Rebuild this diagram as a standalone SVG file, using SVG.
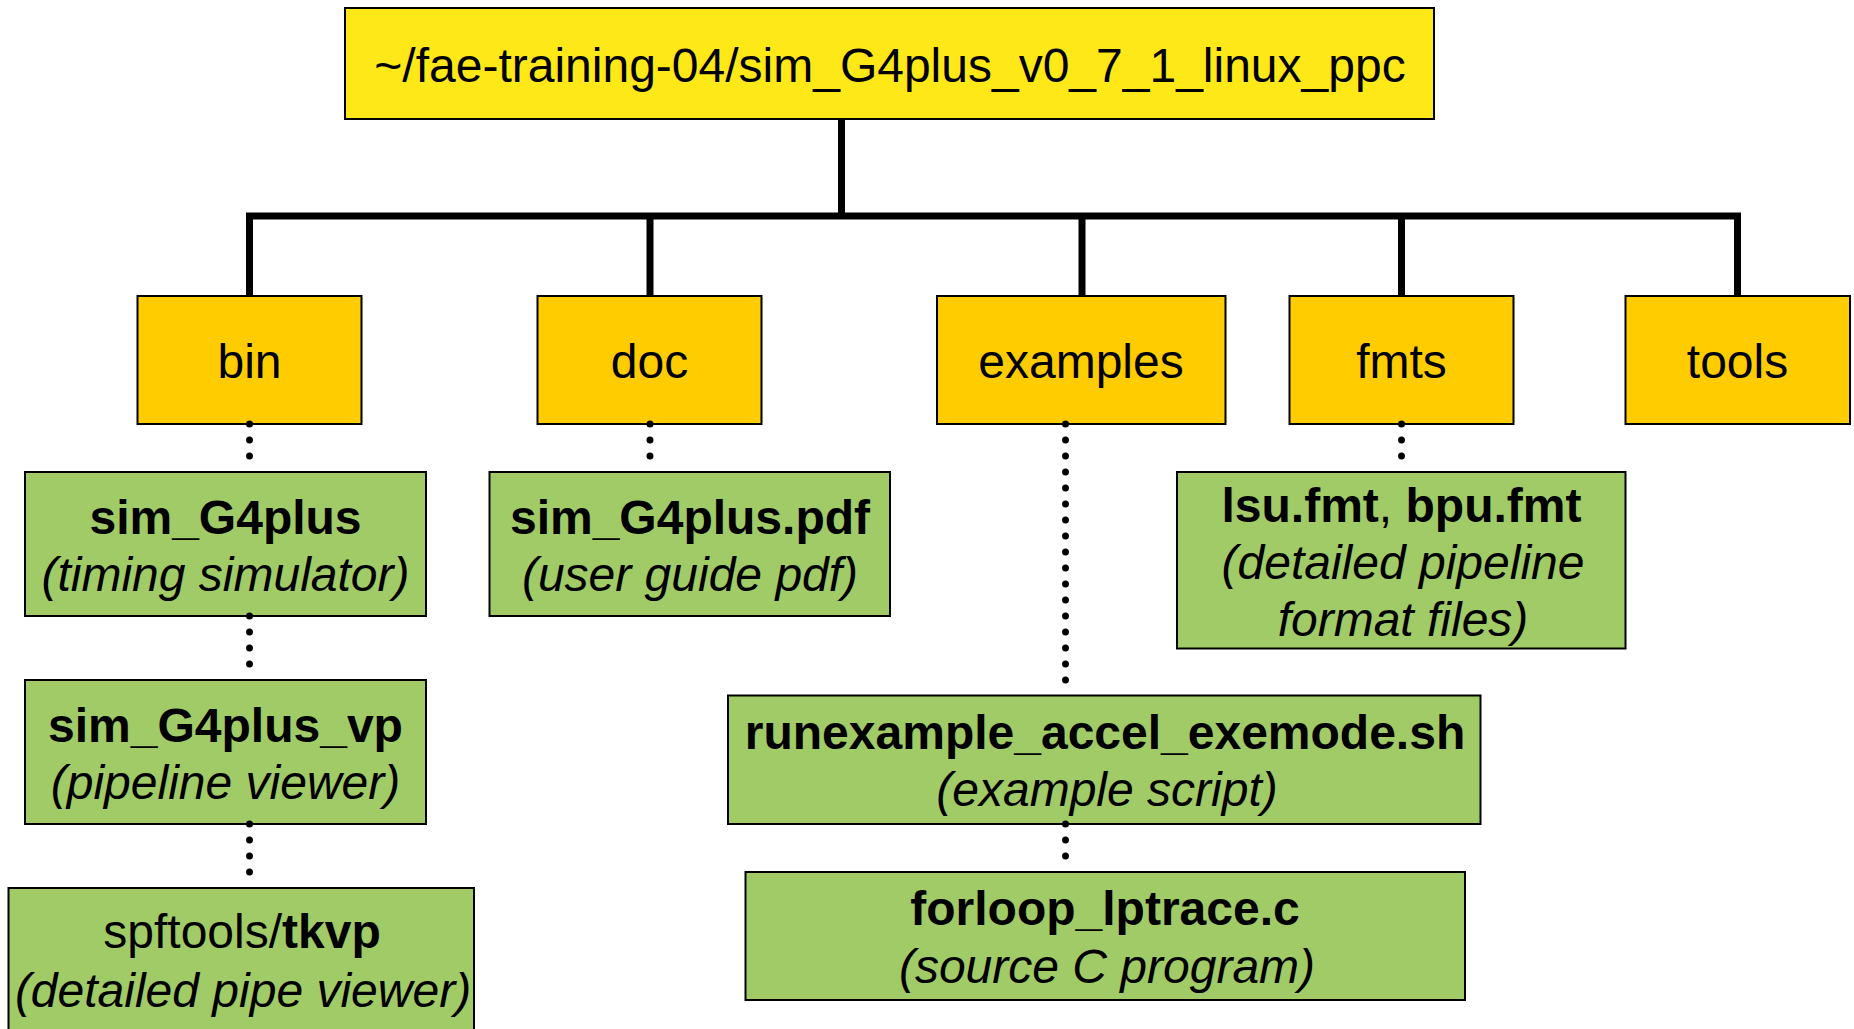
<svg xmlns="http://www.w3.org/2000/svg" width="1854" height="1029" viewBox="0 0 1854 1029">
<style>
  .box { stroke: #000; stroke-width: 2; }
  .root { fill: #FFE817; }
  .dir { fill: #FFCC00; }
  .file { fill: #A0CB67; }
  text { font-family: "Liberation Sans", Arial, Helvetica, sans-serif; font-size: 48px; fill: #000; text-anchor: middle; }
  .b { font-weight: bold; }
  .i { font-style: italic; }
  .solid { fill: none; stroke: #000; stroke-width: 7; }
  .dots { fill: none; stroke: #000; stroke-width: 7; stroke-linecap: round; stroke-dasharray: 0 16; }
</style>
<rect width="1854" height="1029" fill="#fff"/>

<g id="connectors">
  <line class="solid" x1="841.5" y1="119" x2="841.5" y2="216"/>
  <path class="solid" d="M249.5 296 V216 H1737.5 V296"/>
  <line class="solid" x1="650" y1="216" x2="650" y2="296"/>
  <line class="solid" x1="1082" y1="216" x2="1082" y2="296"/>
  <line class="solid" x1="1401.5" y1="216" x2="1401.5" y2="296"/>
</g>

<g id="root">
  <rect class="box root" x="345" y="8" width="1089" height="111"/>
  <text x="890" y="82">~/fae-training-04/sim_G4plus_v0_7_1_linux_ppc</text>
</g>

<g id="bin">
  <rect class="box dir" x="137.5" y="296" width="224" height="128"/>
  <text x="249.5" y="378">bin</text>
</g>
<g id="doc">
  <rect class="box dir" x="537.5" y="296" width="224" height="128"/>
  <text x="649.5" y="378">doc</text>
</g>
<g id="examples">
  <rect class="box dir" x="937" y="296" width="288.5" height="128"/>
  <text x="1081" y="378">examples</text>
</g>
<g id="fmts">
  <rect class="box dir" x="1289.5" y="296" width="224" height="128"/>
  <text x="1401.5" y="378">fmts</text>
</g>
<g id="tools">
  <rect class="box dir" x="1625.5" y="296" width="224.5" height="128"/>
  <text x="1737.5" y="378">tools</text>
</g>

<g id="sim_G4plus">
  <rect class="box file" x="25" y="472" width="401" height="144"/>
  <text class="b" x="225.5" y="534">sim_G4plus</text>
  <text class="i" x="225.5" y="591">(timing simulator)</text>
</g>
<g id="sim_G4plus_vp">
  <rect class="box file" x="25" y="680" width="401" height="144"/>
  <text class="b" x="225.5" y="742">sim_G4plus_vp</text>
  <text class="i" x="225.5" y="799">(pipeline viewer)</text>
</g>
<g id="tkvp">
  <rect class="box file" x="8.5" y="888" width="465.5" height="146"/>
  <text x="242" y="948">spftools/<tspan class="b">tkvp</tspan></text>
  <text class="i" x="243" y="1007">(detailed pipe viewer)</text>
</g>
<g id="sim_G4plus_pdf">
  <rect class="box file" x="489.5" y="472" width="400.5" height="144"/>
  <text class="b" x="690" y="534">sim_G4plus.pdf</text>
  <text class="i" x="690" y="591">(user guide pdf)</text>
</g>
<g id="fmt_files">
  <rect class="box file" x="1177" y="472" width="448.5" height="176.5"/>
  <text x="1401.5" y="522"><tspan class="b">lsu.fmt</tspan>, <tspan class="b">bpu.fmt</tspan></text>
  <text class="i" x="1403" y="579">(detailed pipeline</text>
  <text class="i" x="1403" y="636">format files)</text>
</g>
<g id="runexample">
  <rect class="box file" x="728" y="695.5" width="752.5" height="128.5"/>
  <text class="b" x="1105" y="749">runexample_accel_exemode.sh</text>
  <text class="i" x="1107" y="806">(example script)</text>
</g>
<g id="forloop">
  <rect class="box file" x="745.5" y="872" width="719.5" height="128"/>
  <text class="b" x="1105" y="925">forloop_lptrace.c</text>
  <text class="i" x="1107" y="983">(source C program)</text>
</g>

<g id="dotted-connectors">
  <line class="dots" x1="249.5" y1="424" x2="249.5" y2="457"/>
  <line class="dots" x1="249.5" y1="616" x2="249.5" y2="665"/>
  <line class="dots" x1="249.5" y1="824" x2="249.5" y2="873"/>
  <line class="dots" x1="650" y1="424" x2="650" y2="457"/>
  <line class="dots" x1="1401.5" y1="424" x2="1401.5" y2="457"/>
  <line class="dots" x1="1065.5" y1="424" x2="1065.5" y2="681"/>
  <line class="dots" x1="1065.5" y1="824" x2="1065.5" y2="857"/>
</g>
</svg>
